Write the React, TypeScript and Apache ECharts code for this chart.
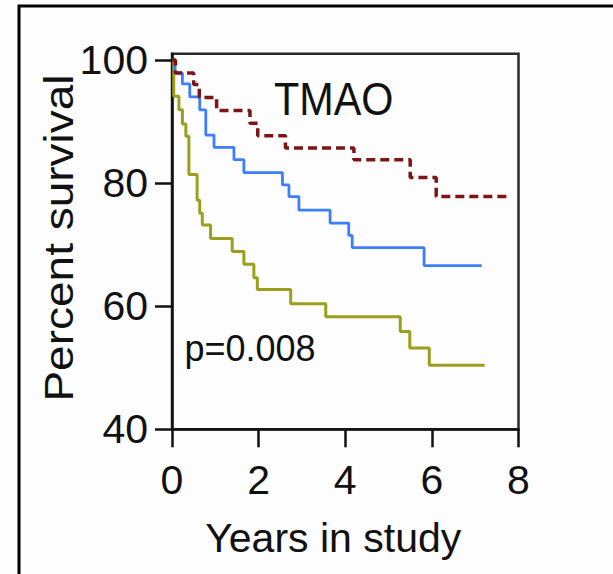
import React, { useEffect, useRef } from "react";
import * as echarts from "echarts";

// Tick values
const xTicks = [0, 2, 4, 6, 8];
const yTicks = [40, 60, 80, 100];

// Kaplan-Meier curves (years, percent survival)
const redTimes = [0, 0.08, 0.5, 0.63, 1.03, 1.8, 1.98, 2.62, 4.2, 5.5, 6.1, 7.75];
const redValues = [100, 97.9, 96.0, 93.9, 91.8, 89.7, 87.7, 85.7, 83.8, 80.9, 77.8, 77.8];

const blueTimes = [0, 0.07, 0.24, 0.41, 0.64, 0.78, 0.97, 1.43, 1.66, 2.55, 2.7, 2.93, 3.65, 4.08, 4.16, 5.82, 7.15];
const blueValues = [100, 97.9, 96.1, 94.0, 91.9, 87.8, 85.8, 83.8, 81.7, 79.7, 77.8, 75.6, 73.5, 71.5, 69.5, 66.6, 66.6];

const oliveTimes = [0, 0.04, 0.16, 0.24, 0.32, 0.39, 0.58, 0.64, 0.7, 0.89, 1.39, 1.66, 1.89, 1.97, 2.74, 3.55, 5.27, 5.49, 5.94, 7.22];
const oliveValues = [100, 94.1, 91.9, 89.6, 87.6, 81.4, 77.2, 75.1, 73.2, 71.0, 68.9, 66.8, 64.6, 62.7, 60.4, 58.3, 55.9, 53.2, 50.4, 50.4];

const xTitle = "Years in study";
const yTitle = "Percent survival";
const panelTitle = "TMAO";
const pText = "p=0.008";

const FONT = "'Liberation Sans', Arial, Helvetica, sans-serif";

function zip(t: number[], v: number[]) {
  return t.map((x, i) => [x, v[i]]);
}

export default function App() {
  const ref = useRef<HTMLDivElement>(null);
  useEffect(() => {
    if (!ref.current) return;
    const chart = echarts.init(ref.current, null, { renderer: "svg" });
    const axisColor = "#111";
    chart.setOption({
      animation: false,
      backgroundColor: "#fdfdfd",
      grid: {
        left: 172,
        top: 53.8,
        width: 346.5,
        height: 375.5,
        show: true,
        borderColor: "#2a2a2a",
        borderWidth: 2.5,
        backgroundColor: "transparent",
      },
      xAxis: {
        type: "value",
        min: 0,
        max: 8,
        interval: 2,
        axisLine: { show: true, onZero: false, lineStyle: { color: axisColor, width: 2.5 } },
        axisTick: { show: true, length: 18, lineStyle: { color: axisColor, width: 2.5 }, customValues: xTicks },
        axisLabel: { fontSize: 41, color: axisColor, margin: 30, fontFamily: FONT, customValues: xTicks },
        splitLine: { show: false },
        name: xTitle,
        nameLocation: "middle",
        nameGap: 88,
        nameTextStyle: { fontSize: 41, color: axisColor, fontFamily: FONT, padding: [0, 24, 0, 0] },
      },
      yAxis: {
        type: "value",
        min: 40,
        max: 101,
        axisLine: { show: true, onZero: false, lineStyle: { color: axisColor, width: 2.5 } },
        axisTick: { show: true, length: 17, lineStyle: { color: axisColor, width: 2.5 }, customValues: yTicks },
        axisLabel: { fontSize: 41, color: axisColor, margin: 24, fontFamily: FONT, customValues: yTicks },
        splitLine: { show: false },
      },
      graphic: [
        {
          type: "polyline",
          shape: { points: [[19, 574], [19, 6], [613, 6]] },
          style: { stroke: "#000", lineWidth: 3, fill: "none" },
          silent: true,
        },
        {
          type: "text",
          x: 59,
          y: 238,
          rotation: Math.PI / 2,
          scaleX: 1.15,
          style: {
            text: yTitle,
            fontSize: 40,
            fontFamily: FONT,
            fill: axisColor,
            align: "center",
            verticalAlign: "middle",
          },
        },
        {
          type: "text",
          x: 274,
          y: 98.5,
          scaleX: 0.88,
          style: {
            text: panelTitle,
            fontSize: 47,
            fontFamily: FONT,
            fill: axisColor,
            align: "left",
            verticalAlign: "middle",
          },
        },
        {
          type: "text",
          x: 184.5,
          y: 348,
          style: {
            text: pText,
            fontSize: 36,
            fontFamily: FONT,
            fill: axisColor,
            align: "left",
            verticalAlign: "middle",
          },
        },
      ],
      series: [
        {
          type: "line",
          step: "end",
          showSymbol: false,
          data: zip(oliveTimes, oliveValues),
          lineStyle: { color: "#9ba01c", width: 3 },
          itemStyle: { color: "#9ba01c" },
        },
        {
          type: "line",
          step: "end",
          showSymbol: false,
          data: zip(blueTimes, blueValues),
          lineStyle: { color: "#3d7dff", width: 2.8 },
          itemStyle: { color: "#3d7dff" },
        },
        {
          type: "line",
          step: "end",
          showSymbol: false,
          data: zip(redTimes, redValues),
          lineStyle: { color: "#7d1515", width: 3.5, type: [9, 5] },
          itemStyle: { color: "#7d1515" },
        },
      ],
    });
    return () => chart.dispose();
  }, []);
  return <div ref={ref} style={{ position: "absolute", left: 0, top: 0, width: 613, height: 574 }} />;
}
